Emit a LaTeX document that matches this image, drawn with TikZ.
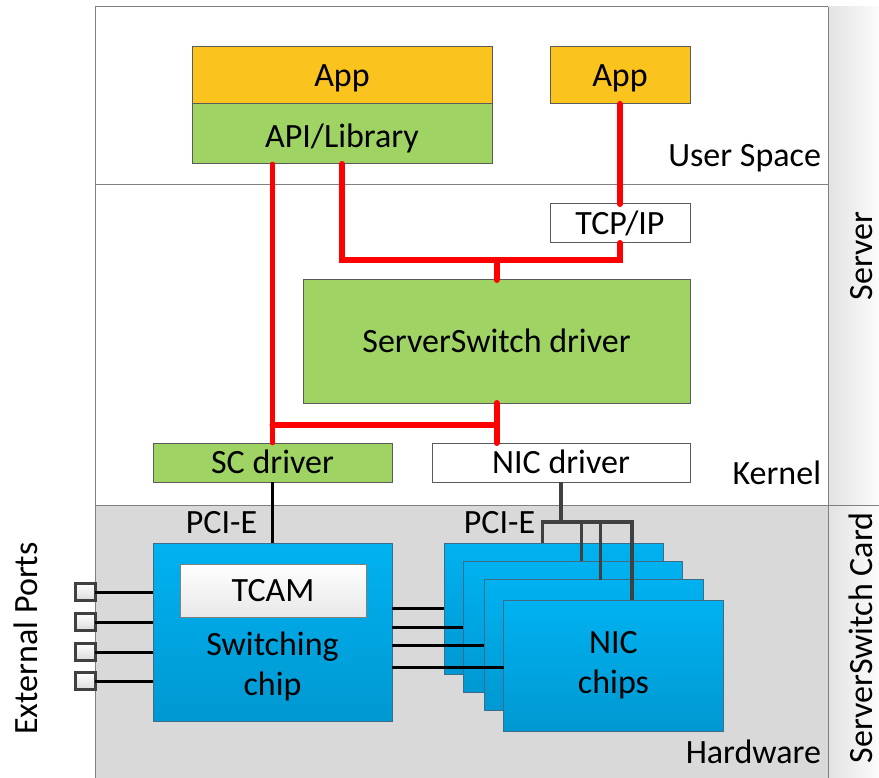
\documentclass[tikz,border=0pt]{standalone}
\usepackage{fontspec}
\setmainfont{Carlito}
\usetikzlibrary{calc}
\definecolor{appor}{HTML}{FBC31E}
\definecolor{grn}{HTML}{9FD363}
\definecolor{boxline}{HTML}{5A5A5A}
\definecolor{layerline}{HTML}{808080}
\definecolor{hwgrey}{HTML}{D9D9D9}
\definecolor{chiptop}{HTML}{00B2F0}
\definecolor{chipbot}{HTML}{0098D2}
\definecolor{chipline}{HTML}{3E6B85}
\definecolor{darkline}{HTML}{404040}
\definecolor{colL}{HTML}{E2E2E2}
\definecolor{colR}{HTML}{FCFCFC}
\tikzset{
  txt/.style={font=\fontsize{34}{40}\selectfont, text height=22pt, text depth=0pt, inner sep=0pt, outer sep=0pt},
  box/.style={txt, draw=boxline, line width=1pt},
  redl/.style={draw=red, line width=6pt, line cap=round},
  blk/.style={draw=black, line width=3pt},
  pci/.style={draw=darkline, line width=3.5pt},
  chip/.style={draw=chipline, line width=1pt, top color=chiptop, bottom color=chipbot, inner sep=0pt, outer sep=0pt},
  port/.style={draw=darkline, line width=3pt, top color=white, bottom color=gray!28, minimum width=20pt, minimum height=16.5pt, inner sep=0pt, outer sep=0pt},
  multi/.style={font=\fontsize{34}{40}\selectfont, align=center, inner sep=0pt},
}
\begin{document}
\begin{tikzpicture}[x=1pt,y=-1pt]
\useasboundingbox (0,0) rectangle (879,778);
% layers
\fill[white] (0,0) rectangle (879,778);
\fill[left color=colL, right color=colR] (828,7) rectangle (879,778);
\fill[hwgrey] (95,505) rectangle (828,779);
\draw[layerline, line width=1pt] (95,779) -- (95,7) -- (828,7);
\draw[layerline, line width=1pt] (828,7) -- (828,779);
\draw[layerline, line width=1pt] (95,185) -- (828,185);
\draw[layerline, line width=1pt] (95,505) -- (879,505);

% layer labels
\node[txt, anchor=east] (lus) at (821,156) {User Space};
\node[txt, anchor=east] (lkern) at (821,473.5) {Kernel};
\node[txt, anchor=east] (lhw) at (821,752) {Hardware};
\node[txt, rotate=90] (lserver) at (861,256) {Server};
\node[txt, rotate=90] (lcard) at (861,638) {ServerSwitch Card};
\node[txt, rotate=90] (lext) at (26,638.5) {External Ports};

% user space
\node[box, fill=appor, minimum width=300pt, minimum height=57pt] (app1) at (342,75.5) {App};
\node[box, fill=grn, minimum width=300pt, minimum height=60pt, text height=27pt] (api) at (342,134) {API/Library};
\node[box, fill=appor, minimum width=140pt, minimum height=57pt] (app2) at (620,75.5) {App};

% kernel
\node[box, fill=white, minimum width=140pt, minimum height=39pt] (tcp) at (620,223.5) {TCP/IP};
\node[box, fill=grn, minimum width=387pt, minimum height=123pt] (ssd) at (496.5,341.5) {ServerSwitch driver};
\node[box, fill=grn, minimum width=239pt, minimum height=39pt] (scd) at (272.5,462.5) {SC driver};
\node[box, fill=white, minimum width=258pt, minimum height=39pt] (nicd) at (561,462.5) {NIC driver};

% hardware
\node[chip, minimum width=239pt, minimum height=178pt] (sw) at (272.5,632) {};
\node[box, draw=gray, top color=white, bottom color=gray!18, minimum width=186pt, minimum height=53pt] (tcam) at (273,590.5) {TCAM};
\node[multi] (swtxt) at (272.5,666) {Switching\\chip};

\node[chip, minimum width=219pt, minimum height=131pt] (nic1) at (553.5,608.5) {};
\node[chip, minimum width=219pt, minimum height=131pt] (nic2) at (572.5,626.5) {};
\node[chip, minimum width=219pt, minimum height=131pt] (nic3) at (593.5,645) {};
\node[chip, minimum width=220pt, minimum height=131pt, multi] (nic4) at (613.5,665.5) {NIC\\chips};

\node[txt] (pci1) at (221.5,522) {PCI-E};
\node[txt] (pci2) at (499.5,522) {PCI-E};

% ports
\node[port] (p1) at (85,592) {};
\node[port] (p2) at (85,622) {};
\node[port] (p3) at (85,652) {};
\node[port] (p4) at (85,681) {};
\foreach \p in {p1,p2,p3,p4} {\draw[blk] (\p.east) -- (\p.east -| sw.west);}

% switching chip to NIC chips
\draw[blk] (sw.east |- 0,608) -- (nic1.west |- 0,608);
\draw[blk] (sw.east |- 0,627) -- (nic2.west |- 0,627);
\draw[blk] (sw.east |- 0,645.5) -- (nic3.west |- 0,645.5);
\draw[blk] (sw.east |- 0,667) -- (nic4.west |- 0,667);

% PCI-E links
\draw[blk, line width=2.5pt] (scd.south) -- (sw.north);
\coordinate (j3) at (nicd.south |- 0,522);
\coordinate (d1) at ($(nic1.north west)+(98.5,0)$);
\coordinate (d2) at ($(nic2.north west)+(118.5,0)$);
\coordinate (d3) at ($(nic3.north west)+(116.5,0)$);
\coordinate (d4) at ($(nic4.north west)+(128.5,0)$);
\draw[pci] (nicd.south) -- (j3);
\draw[pci] (d1) |- (j3) -| (d4);
\draw[pci] (d2) -- (d2 |- j3);
\draw[pci] (d3) -- (d3 |- j3);

% red control paths
\coordinate (j1) at (ssd.north |- 0,260);
\coordinate (j2) at (ssd.south |- 0,425);
\draw[redl] (app2.south) -- (tcp.north);
\draw[redl] (api.south) |- (j1) -| (tcp.south);
\draw[redl] (j1) -- (j1 |- ssd.north);
\draw[redl] (ssd.south) -- (ssd.south |- nicd.north);
\draw[redl, line width=4.5pt] (scd.north |- api.south) -- (scd.north);
\draw[redl] (scd.north |- j2) -- (j2);
\end{tikzpicture}
\end{document}
